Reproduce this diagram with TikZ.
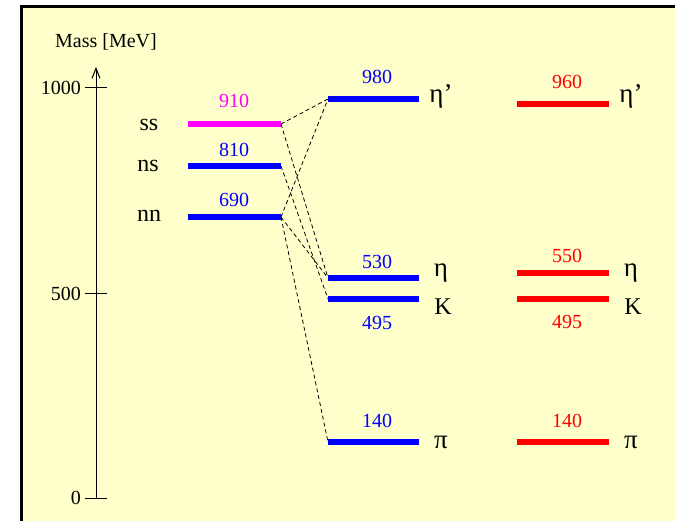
\documentclass[tikz,border=0pt]{standalone}
\usepackage{fontspec}
\setmainfont{Liberation Serif}
\usetikzlibrary{arrows.meta}
\definecolor{bgyellow}{RGB}{255,255,204}
\definecolor{lvblue}{RGB}{0,0,255}
\definecolor{lvred}{RGB}{255,0,0}
\definecolor{lvmag}{RGB}{255,0,255}
\begin{document}
\begin{tikzpicture}[x=1pt,y=-1pt,
  lvl/.style={line width=5.5pt},
  lab/.style={font=\fontsize{20}{22}\selectfont, inner sep=0pt, anchor=base},
  qlab/.style={font=\fontsize{24}{26}\selectfont, inner sep=0pt, anchor=mid},
  part/.style={font=\fontsize{24}{26}\selectfont, inner sep=0pt, anchor=base},
  greek/.style={font=\fontsize{27}{29}\selectfont, inner sep=0pt, anchor=base},
  mix/.style={dash pattern=on 4pt off 3pt, line width=0.8pt},
  tick/.style={line width=1pt},
]
\useasboundingbox (0,0) rectangle (675,521);
% frame
\fill[bgyellow] (21,7) rectangle (676,522);
\draw[line width=3pt] (21,522) -- (21,7) -- (676,7);

% axis
\coordinate (axbot) at (96,498);
\coordinate (axtop) at (96,67);
\draw[line width=1pt, -{Straight Barb[length=10pt,width=8pt]}] (axbot) -- (axtop);
\draw[tick] (85,88) -- (107,88);
\draw[tick] (85,294) -- (107,294);
\draw[tick] (85,498) -- (107,498);
\node[lab, anchor=east] (t1000) at (81,88) {1000};
\node[lab, anchor=east] (t500) at (81,294) {500};
\node[lab, anchor=east] (t0) at (81,498) {0};
\node[lab] (mass) at (106,48) {Mass [MeV]};

% quark-model levels (left)
\coordinate (ssL) at (188,124); \coordinate (ssR) at (281,124);
\coordinate (nsL) at (188,166); \coordinate (nsR) at (281,166);
\coordinate (nnL) at (188,217); \coordinate (nnR) at (281,217);
\draw[lvl, lvmag] (ssL) -- (ssR);
\draw[lvl, lvblue] (nsL) -- (nsR);
\draw[lvl, lvblue] (nnL) -- (nnR);
\node[lab, text=lvmag] (v910) at (234,108) {910};
\node[lab, text=lvblue] (v810) at (234,157) {810};
\node[lab, text=lvblue] (v690) at (234,207) {690};
\node[qlab] (ss) at (149,128) {ss};
\node[qlab] (ns) at (148,169) {ns};
\node[qlab] (nn) at (149,219) {nn};

% model levels (middle)
\coordinate (epL) at (328,99);  \coordinate (epR) at (419,99);
\coordinate (etL) at (328,278); \coordinate (etR) at (419,278);
\coordinate (kL)  at (328,299); \coordinate (kR)  at (419,299);
\coordinate (piL) at (328,442); \coordinate (piR) at (419,442);
\draw[lvl, lvblue] (epL) -- (epR);
\draw[lvl, lvblue] (etL) -- (etR);
\draw[lvl, lvblue] (kL) -- (kR);
\draw[lvl, lvblue] (piL) -- (piR);
\node[lab, text=lvblue] (v980) at (377,84) {980};
\node[lab, text=lvblue] (v530) at (377,269) {530};
\node[lab, text=lvblue] (v495) at (377,330) {495};
\node[lab, text=lvblue] (v140) at (377,428) {140};
\node[greek] (mep) at (441,103) {η’};
\node[greek] (met) at (441,277) {η};
\node[part] (mk)  at (443,315) {K};
\node[greek] (mpi) at (441,448) {π};

% experimental levels (right)
\coordinate (xepL) at (517,104); \coordinate (xepR) at (609,104);
\coordinate (xetL) at (517,273); \coordinate (xetR) at (609,273);
\coordinate (xkL)  at (517,299); \coordinate (xkR)  at (609,299);
\coordinate (xpiL) at (517,442); \coordinate (xpiR) at (609,442);
\draw[lvl, lvred] (xepL) -- (xepR);
\draw[lvl, lvred] (xetL) -- (xetR);
\draw[lvl, lvred] (xkL) -- (xkR);
\draw[lvl, lvred] (xpiL) -- (xpiR);
\node[lab, text=lvred] (x960) at (567,89) {960};
\node[lab, text=lvred] (x550) at (567,263) {550};
\node[lab, text=lvred] (x495) at (567,329) {495};
\node[lab, text=lvred] (x140) at (567,428) {140};
\node[greek] (xep) at (631,103) {η’};
\node[greek] (xet) at (631,277) {η};
\node[part] (xk)  at (633,315) {K};
\node[greek] (xpi) at (631,448) {π};

% mixing connectors
\draw[mix] (ssR) -- (epL);
\draw[mix] (ssR) -- (etL);
\draw[mix] (nsR) -- (kL);
\draw[mix] (nnR) -- (epL);
\draw[mix] (nnR) -- (etL);
\draw[mix] (nnR) -- (piL);
\end{tikzpicture}
\end{document}
